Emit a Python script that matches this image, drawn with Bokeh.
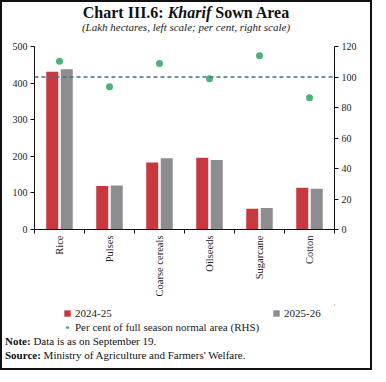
from bokeh.plotting import figure
from bokeh.models import (Range1d, LinearAxis, FixedTicker, Legend, LegendItem,
                          ColumnDataSource, Span, Div)
from bokeh.layouts import column, row
from bokeh.transform import dodge
from bokeh.embed import file_html
from bokeh.resources import INLINE

categories = ["Rice", "Pulses", "Coarse cereals", "Oilseeds", "Sugarcane", "Cotton"]
area_2024_25 = [431, 119, 183, 196, 57, 114]
area_2025_26 = [438, 120, 195, 190, 59, 111]
pct_normal = [110.4, 93.6, 108.9, 98.8, 113.9, 86.4]
left_ticks = [0, 100, 200, 300, 400, 500]
right_ticks = [0, 20, 40, 60, 80, 100, 120]
reference_pct = 100

FONT = "Liberation Serif"
RED = "#C8383E"
GREY = "#8D8D90"
GREEN = "#4FB07E"
DASH = "#47708C"
INK = "#111111"

xs = list(range(len(categories)))
src = ColumnDataSource(dict(x=xs, a=area_2024_25, b=area_2025_26,
                            p=[v * 500 / 120 for v in pct_normal]))

FW, FH = 368, 266
fig = figure(width=FW, height=FH, output_backend="svg", toolbar_location=None,
             x_range=Range1d(-0.5, len(categories) - 0.5), y_range=Range1d(0, 500),
             min_border_left=32, min_border_right=36, min_border_top=8, min_border_bottom=75,
             x_axis_type=None, y_axis_type=None)
fig.outline_line_color = None
fig.xgrid.visible = False
fig.ygrid.visible = False
fig.extra_y_ranges = {"pct": Range1d(0, 120)}

def style_axis(ax, size="10px"):
    ax.axis_line_color = INK
    ax.axis_line_width = 1
    ax.major_tick_line_color = INK
    ax.major_tick_in = 0
    ax.major_tick_out = 4
    ax.minor_tick_line_color = None
    ax.major_label_text_font = FONT
    ax.major_label_text_font_size = size
    ax.major_label_text_color = "#222"

yl = LinearAxis(ticker=FixedTicker(ticks=left_ticks))
style_axis(yl)
yl.major_label_standoff = 3
fig.add_layout(yl, "left")

yr = LinearAxis(y_range_name="pct", ticker=FixedTicker(ticks=right_ticks))
style_axis(yr)
yr.major_label_standoff = 3
fig.add_layout(yr, "right")

# boundary ticks on the x axis (no labels)
bounds = [i - 0.5 for i in range(len(categories) + 1)]
xb = LinearAxis(ticker=FixedTicker(ticks=bounds))
style_axis(xb, "1px")
xb.major_label_overrides = {b: "" for b in bounds}
xb.major_label_standoff = 0
fig.add_layout(xb, "below")

# category labels
xc = LinearAxis(ticker=FixedTicker(ticks=xs))
style_axis(xc, "10.5px")
xc.axis_line_color = None
xc.major_tick_line_color = None
xc.major_tick_out = 0
xc.major_label_overrides = {i: c for i, c in enumerate(categories)}
xc.major_label_orientation = 1.5708
xc.major_label_standoff = 2
fig.add_layout(xc, "below")

bar_a = dict(x=dodge("x", -0.145, range=fig.x_range), top="a", width=0.24, source=src,
             fill_color=RED, line_color=None)
bar_b = dict(x=dodge("x", 0.145, range=fig.x_range), top="b", width=0.24, source=src,
             fill_color=GREY, line_color=None)
dots = dict(x="x", y="p", source=src, size=7, fill_color=GREEN, line_color=None)

fig.vbar(**bar_a)
fig.vbar(**bar_b)
fig.add_layout(Span(location=reference_pct, dimension="width", y_range_name="pct",
                    line_color=DASH, line_dash="4 3", line_width=1.5))
fig.scatter(**dots)

# legend strip: same renderers, outside its (empty) view, so only the legend shows
LH = 30
leg = figure(width=FW, height=LH, output_backend="svg", toolbar_location=None,
             x_range=Range1d(-20, -19), y_range=Range1d(-20, -19),
             min_border=0, x_axis_type=None, y_axis_type=None)
leg.outline_line_color = None
leg.xgrid.visible = False
leg.ygrid.visible = False
l1 = leg.vbar(**bar_a)
l2 = leg.vbar(**bar_b)
l3 = leg.scatter(**dots)

common = dict(orientation="horizontal", border_line_color=None,
              background_fill_alpha=0, label_text_font=FONT, label_text_font_size="11px",
              label_text_color="#222", glyph_width=8, glyph_height=8, label_standoff=4,
              spacing=0, padding=0, label_height=14, margin=0)
legend1 = Legend(items=[LegendItem(label="2024-25", renderers=[l1]),
                        LegendItem(label="2025-26", renderers=[l2])],
                 location=(29, 14), label_width=197, **common)
legend2 = Legend(items=[LegendItem(label="Per cent of full season normal area (RHS)",
                                   renderers=[l3])], location=(29, 0), **common)
leg.add_layout(legend1, "center")
leg.add_layout(legend2, "center")

title = Div(text=(f"<div style=\"width:{FW}px;padding-top:5px;text-align:center;color:{INK};"
                  f"font-family:'{FONT}'\">"
                  f"<div style=\"font-weight:bold;font-size:16px;line-height:16px\">"
                  f"Chart III.6: <i>Kharif</i> Sown Area</div>"
                  f"<div style=\"font-style:italic;font-size:11px;line-height:13px;color:#222\">"
                  f"(Lakh hectares, left scale; per cent, right scale)</div></div>"),
            width=FW, height=38, margin=(0, 0, 0, 0),
            styles={"box-shadow": f"inset 0 2px 0 {INK}", "text-align": "center"})

notes = Div(text=(f"<div style=\"padding-left:3px;color:{INK};font-family:'{FONT}';"
                  f"font-size:11px;line-height:14px\">"
                  f"<b>Note:</b> Data is as on September 19.<br>"
                  f"<b>Source:</b> Ministry of Agriculture and Farmers' Welfare.</div>"),
            width=FW, height=36, margin=(0, 0, 0, 0),
            styles={"box-shadow": f"inset 0 -2px 0 {INK}"})

inner = column(title, fig, leg, notes, spacing=0)
IH = 38 + FH + LH + 36
bar_style = {"background-color": INK}
left_bar = Div(text="", width=2, height=IH, margin=(0, 0, 0, 0), styles=bar_style)
right_bar = Div(text="", width=2, height=IH, margin=(0, 0, 0, 0), styles=bar_style)

p = row(left_bar, inner, right_bar, spacing=0)

open("out.html", "w").write(file_html(p, INLINE))
